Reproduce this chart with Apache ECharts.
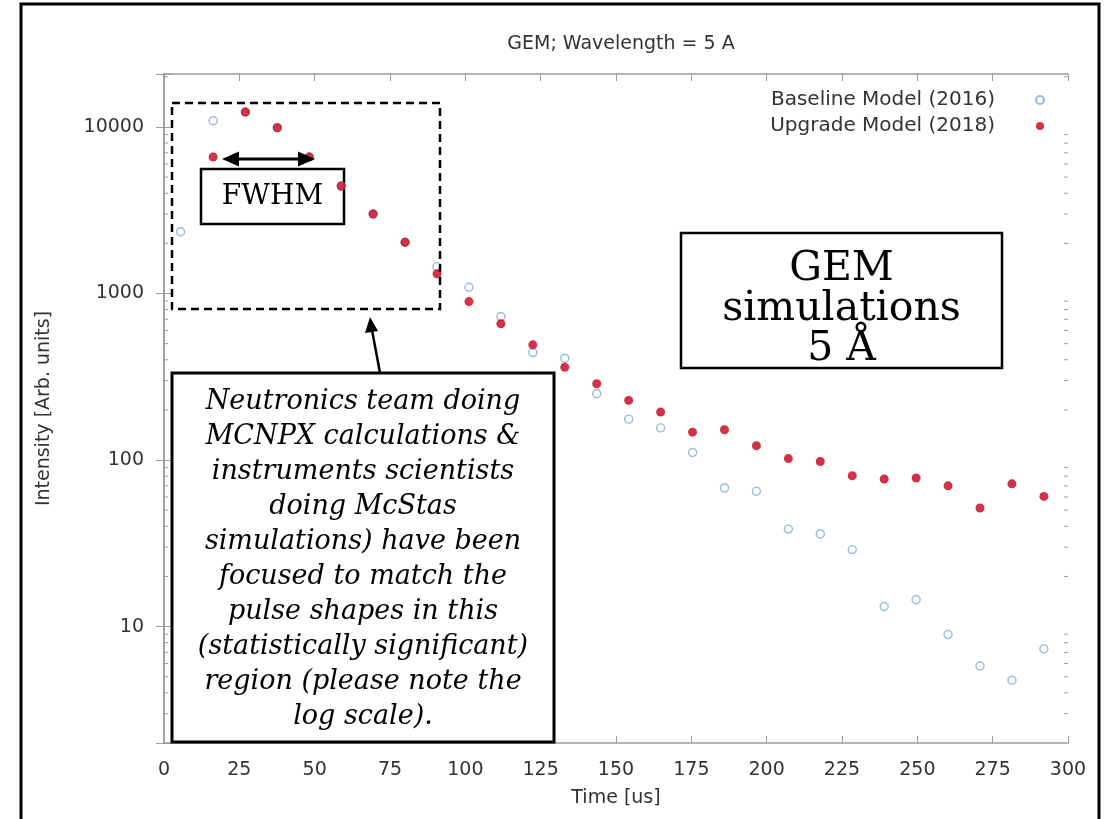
<!DOCTYPE html>
<html>
<head>
<meta charset="utf-8">
<script src="https://cdn.jsdelivr.net/npm/echarts@6/dist/echarts.min.js"></script>
<style>
  html, body { margin: 0; padding: 0; background: #fff; }
  #chart { width: 1106px; height: 819px; }
</style>
</head>
<body>
<div id="chart"></div>
<script>
// time bins (us)
const timeBins = [5.5, 16.3, 27, 37.6, 48.2, 58.8, 69.4, 80, 90.6, 101.2, 111.8, 122.4, 133, 143.6,
    154.2, 164.8, 175.4, 186, 196.6, 207.2, 217.8, 228.4, 239, 249.6, 260.2, 270.8, 281.4, 292];

// Baseline Model (2016) - open blue circles (27..80 sit under the red dots)
const baseline2016 = [2350, 10900, 12300, 9900, 6600, 4420, 3000, 2030, 1450, 1091, 727, 442, 409, 250,
    176, 156, 111, 68, 65, 38.5, 36, 29, 13.2, 14.5, 8.95, 5.8, 4.76, 7.35];

// Upgrade Model (2018) - filled red dots
const upgrade2018 = [null, 6600, 12300, 9900, 6600, 4420, 3000, 2030, 1312, 894, 658, 492, 361, 287,
    228, 194, 147, 152, 122, 102, 98, 80.5, 77, 78, 70, 51.5, 72, 60.5];

const xTicks = { min: 0, max: 300, interval: 25 };
const yRange = { min: 2, max: 20800 };
const yTickLabels = [10, 100, 1000, 10000];
const yMinorTicks = [3, 4, 5, 6, 7, 8, 9, 20, 30, 40, 50, 60, 70, 80, 90,
    200, 300, 400, 500, 600, 700, 800, 900, 2000, 3000, 4000, 5000, 6000, 7000, 8000, 9000, 20000];

const toPairs = vals => timeBins.map((t, i) => [t, vals[i]]).filter(p => p[1] != null);

const sansFont = 'DejaVu Sans';
const serifFont = 'DejaVu Serif';
const borderGrey = '#9c9c9c';
const textGrey = '#333';

const el = document.getElementById('chart');
const chart = echarts.init(el);

const xAxisBase = {
    type: 'value',
    min: xTicks.min,
    max: xTicks.max,
    interval: xTicks.interval,
    splitLine: { show: false },
    axisLine: { show: true, onZero: false, lineStyle: { color: borderGrey, width: 1.5 } },
    axisTick: { show: true, inside: true, length: 7, lineStyle: { color: borderGrey } },
};
const yAxisBase = {
    type: 'log',
    logBase: 10,
    min: yRange.min,
    max: yRange.max,
    splitLine: { show: false },
    axisLine: { show: true, lineStyle: { color: borderGrey, width: 1.5 } },
    axisTick: { show: true, inside: true, length: 8, lineStyle: { color: borderGrey } },
};

chart.setOption({
    animation: false,
    backgroundColor: '#fff',
    title: {
        text: 'GEM; Wavelength = 5 A',
        left: 616,
        textAlign: 'center',
        top: 30,
        textStyle: { fontFamily: sansFont, fontSize: 19, fontWeight: 'normal', color: textGrey },
    },
    legend: {
        data: ['Baseline Model (2016)', 'Upgrade Model (2018)'],
        orient: 'vertical',
        align: 'right',
        right: 56,
        top: 85,
        itemWidth: 80,
        itemHeight: 8,
        itemGap: 6,
        textStyle: { fontFamily: sansFont, fontSize: 20, color: textGrey },
    },
    grid: { left: 164, right: 38, top: 74, bottom: 76 },
    xAxis: [
        Object.assign({}, xAxisBase, {
            position: 'bottom',
            name: 'Time [us]',
            nameLocation: 'middle',
            nameGap: 46,
            nameTextStyle: { fontFamily: sansFont, fontSize: 19, color: textGrey },
            axisLabel: { margin: 18, fontFamily: sansFont, fontSize: 19, color: textGrey },
        }),
        Object.assign({}, xAxisBase, { position: 'top', axisLabel: { show: false } }),
    ],
    yAxis: [
        Object.assign({}, yAxisBase, {
            position: 'left',
            name: 'Intensity [Arb. units]',
            nameLocation: 'middle',
            nameGap: 110,
            nameTextStyle: { fontFamily: sansFont, fontSize: 19, color: textGrey },
            axisLabel: {
                margin: 20, fontFamily: sansFont, fontSize: 19, color: textGrey,
                formatter: v => {
                    const t = yTickLabels.find(t => Math.abs(v - t) / t < 1e-6);
                    return t ? String(t) : '';
                },
            },
        }),
        Object.assign({}, yAxisBase, { position: 'right', axisLabel: { show: false } }),
    ],
    series: [
        {
            name: 'Baseline Model (2016)',
            type: 'scatter',
            symbol: 'circle',
            symbolSize: 8,
            z: 3,
            itemStyle: { color: '#fff', borderColor: '#7ea7da', borderWidth: 1.4 },
            data: toPairs(baseline2016),
        },
        {
            name: 'Upgrade Model (2018)',
            type: 'scatter',
            symbol: 'circle',
            symbolSize: 9,
            z: 3,
            itemStyle: { color: '#c4001a' },
            data: toPairs(upgrade2018),
        },
        {
            // log minor ticks on left and right border
            type: 'custom',
            silent: true,
            clip: false,
            data: yMinorTicks.map(v => [0, v]),
            renderItem: (params, api) => {
                const y = api.coord([0, api.value(1)])[1];
                const cs = params.coordSys;
                const style = { stroke: borderGrey, lineWidth: 1 };
                return {
                    type: 'group',
                    children: [
                        { type: 'line', shape: { x1: cs.x, y1: y, x2: cs.x + 4, y2: y }, style },
                        { type: 'line', shape: { x1: cs.x + cs.width, y1: y, x2: cs.x + cs.width - 4, y2: y }, style },
                    ],
                };
            },
        },
    ],
    graphic: [
        // outer frame
        { type: 'rect', shape: { x: 21, y: 4, width: 1078, height: 830 }, style: { fill: null, stroke: '#000', lineWidth: 3 }, z: 100 },
        // dashed box round the peak
        { type: 'rect', shape: { x: 172, y: 103, width: 268, height: 206 }, style: { fill: null, stroke: '#000', lineWidth: 2.5, lineDash: [8, 5] }, z: 100 },
        // FWHM double arrow
        { type: 'line', shape: { x1: 236, y1: 159, x2: 301, y2: 159 }, style: { stroke: '#000', lineWidth: 3 }, z: 100 },
        { type: 'polygon', shape: { points: [[222, 159], [239, 151.5], [239, 166.5]] }, style: { fill: '#000' }, z: 100 },
        { type: 'polygon', shape: { points: [[315, 159], [298, 151.5], [298, 166.5]] }, style: { fill: '#000' }, z: 100 },
        // FWHM label box sits under the dots
        {
            type: 'rect', shape: { x: 201, y: 169, width: 143, height: 55 },
            style: { fill: '#fff', stroke: '#000', lineWidth: 2.5 }, z: 1,
        },
        {
            type: 'text', x: 272.5, y: 197, z: 101,
            style: { text: 'FWHM', fontFamily: serifFont, fontSize: 28, fill: '#000', align: 'center', verticalAlign: 'middle' },
        },
        // GEM box
        {
            type: 'rect', shape: { x: 681, y: 233, width: 321, height: 135 },
            style: { fill: '#fff', stroke: '#000', lineWidth: 2.5 }, z: 100,
        },
        {
            type: 'text', x: 841.5, y: 309, z: 101,
            style: {
                text: 'GEM\nsimulations\n5 Å', fontFamily: serifFont, fontSize: 41, lineHeight: 40,
                fill: '#000', align: 'center', verticalAlign: 'middle',
            },
        },
        // pointer arrow from the note to the dashed box
        { type: 'line', shape: { x1: 380, y1: 373, x2: 372, y2: 330 }, style: { stroke: '#000', lineWidth: 2.5 }, z: 100 },
        { type: 'polygon', shape: { points: [[370, 317], [365, 333], [378, 331]] }, style: { fill: '#000' }, z: 100 },
        // note box
        {
            type: 'rect', shape: { x: 172, y: 373, width: 382, height: 369 },
            style: { fill: '#fff', stroke: '#000', lineWidth: 3 }, z: 100,
        },
        {
            type: 'text', x: 363, y: 559, z: 101,
            style: {
                text: 'Neutronics team doing\nMCNPX calculations &\ninstruments scientists\ndoing McStas\nsimulations) have been\nfocused to match the\npulse shapes in this\n(statistically significant)\nregion (please note the\nlog scale).',
                fontFamily: serifFont, fontStyle: 'italic', fontSize: 27, lineHeight: 35,
                fill: '#000', align: 'center', verticalAlign: 'middle',
            },
        },
    ],
});

new ResizeObserver(() => chart.resize()).observe(el);
</script>
</body>
</html>
